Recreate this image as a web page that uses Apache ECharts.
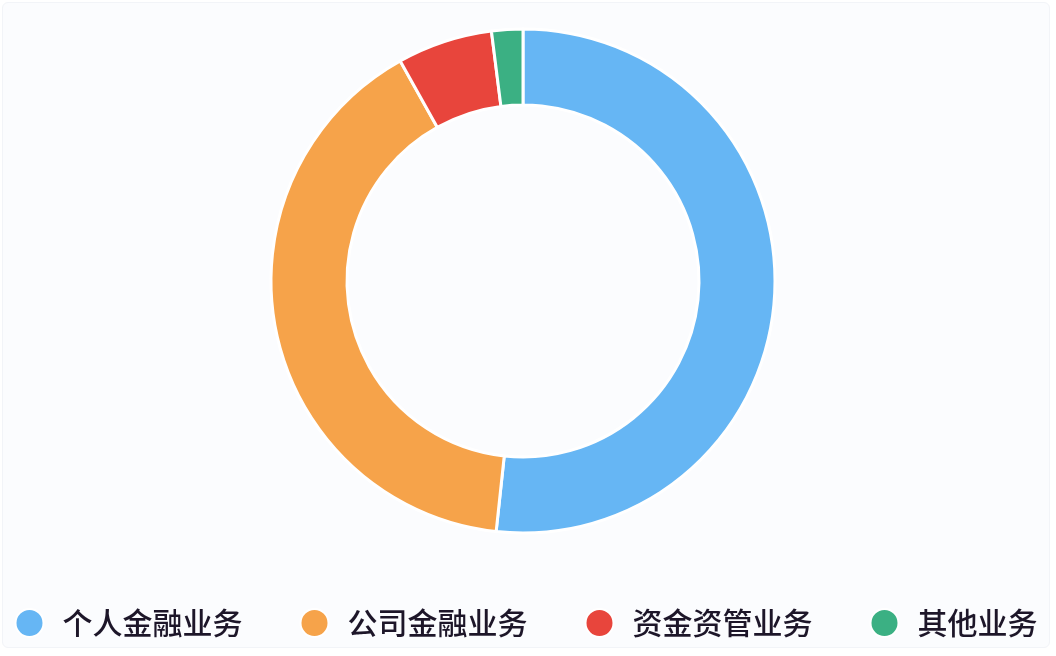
<!DOCTYPE html>
<html>
<head>
<meta charset="utf-8">
<script src="https://cdn.jsdelivr.net/npm/echarts@6/dist/echarts.min.js"></script>
<style>
html,body{margin:0;padding:0;background:#ffffff;}
#c{position:absolute;left:2px;top:2px;width:1048px;height:646px;background:#fbfcfe;border:1px solid #f2f4f8;border-radius:6px;box-sizing:border-box;}
</style>
</head>
<body>
<div id="c"></div>
<script>
const categories = ['个人金融业务', '公司金融业务', '资金资管业务', '其他业务'];
const values = [51.7, 40.2, 6.1, 2.0];
const colors = ['#66b6f4', '#f6a34a', '#e8453c', '#3bb083'];

const chart = echarts.init(document.getElementById('c'));
chart.setOption({
  backgroundColor: 'transparent',
  animation: false,
  color: colors,
  legend: {
    data: categories,
    left: 'center',
    top: 600,
    icon: 'circle',
    itemWidth: 28,
    itemHeight: 28,
    itemGap: 57,
    textStyle: {
      fontSize: 30,
      color: '#1d1629',
      fontWeight: 500,
      fontFamily: '"Noto Sans CJK SC", sans-serif',
      padding: [0, 0, 0, 14]
    }
  },
  series: [{
    type: 'pie',
    center: [520, 278],
    radius: [176, 252],
    startAngle: 90,
    clockwise: true,
    label: { show: false },
    labelLine: { show: false },
    itemStyle: { borderColor: '#ffffff', borderWidth: 3 },
    data: categories.map((name, i) => ({ name, value: values[i] }))
  }]
});
</script>
</body>
</html>
